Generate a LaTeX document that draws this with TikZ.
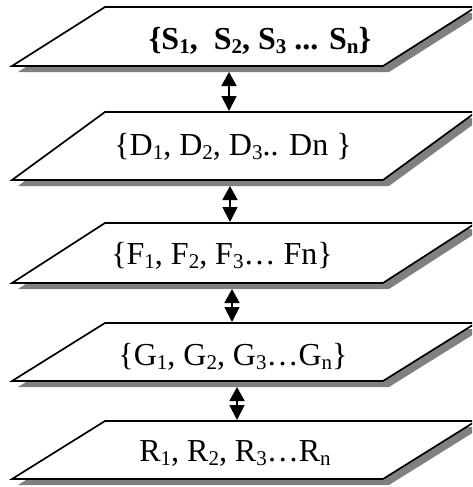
\documentclass[tikz,border=0pt]{standalone}
\usepackage{fontspec}
\setmainfont{Liberation Serif}
\usetikzlibrary{arrows.meta}
\newcommand{\sbs}[1]{\raisebox{-0.15em}{\fontsize{21}{21}\selectfont #1}}
\tikzset{
  plane/.style={draw=black, fill=white, line width=1.7pt, line join=miter},
  planeshadow/.style={fill=black!50, draw=none},
  lbl/.style={anchor=base, inner sep=0pt, font=\fontsize{32}{38}\selectfont},
  link/.style={line width=1.8pt, {Triangle[width=15pt,length=14pt]}-{Triangle[width=15pt,length=15pt]}}
}
\newcommand{\layer}[4]{% top y, bottom y, top-left x, bottom-left x
  \fill[planeshadow] (#4+6,#2+6) -- (#3+6,#1+6) -- (#3+377,#1+6) -- (#4+377,#2+6) -- cycle;
  \draw[plane] (#4,#2) -- (#3,#1) -- (#3+371,#1) -- (#4+371,#2) -- cycle;
}
\begin{document}
\begin{tikzpicture}[x=1pt,y=-1pt]
\useasboundingbox (0,0) rectangle (472,487);
\clip (0,0) rectangle (472,487);
\layer{7}{66}{105}{12}
\layer{112}{180}{105}{12}
\layer{223}{283}{105}{12}
\layer{323}{381}{105}{12}
\layer{421}{479}{105}{12}
\node[lbl] (s) at (260,49) {\bfseries\{S\sbs{1},\ \ S\sbs{2}, S\sbs{3} ... S\sbs{n}\}};
\node[lbl] (d) at (233,155) {\{D\sbs{1}, D\sbs{2}, D\sbs{3}.. Dn \}};
\node[lbl] (f) at (222,264) {\{F\sbs{1}, F\sbs{2}, F\sbs{3}… Fn\}};
\node[lbl] (g) at (233,365) {\{G\sbs{1}, G\sbs{2}, G\sbs{3}…G\sbs{n}\}};
\node[lbl] (r) at (235,461) {R\sbs{1}, R\sbs{2}, R\sbs{3}…R\sbs{n}};
\coordinate (a1t) at (229,72);
\coordinate (a1b) at (229,111);
\coordinate (a2t) at (230,186);
\coordinate (a2b) at (230,222);
\coordinate (a3t) at (232,289);
\coordinate (a3b) at (232,322);
\coordinate (a4t) at (237,387);
\coordinate (a4b) at (237,420);
\draw[link] (a1t) -- (a1b);
\draw[link] (a2t) -- (a2b);
\draw[link] (a3t) -- (a3b);
\draw[link] (a4t) -- (a4b);
\end{tikzpicture}
\end{document}
